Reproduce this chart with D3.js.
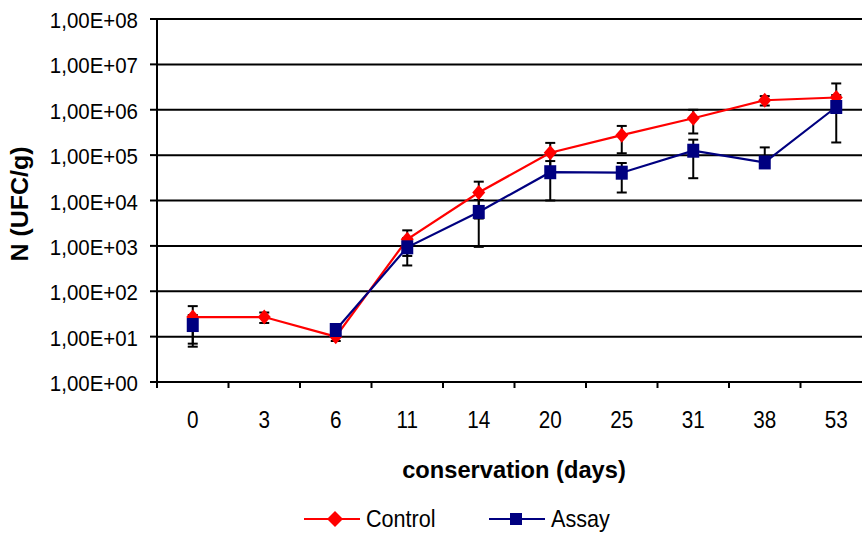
<!DOCTYPE html>
<html>
<head>
<meta charset="utf-8">
<script src="https://cdn.jsdelivr.net/npm/d3@7"></script>
<style>
  html, body { margin: 0; padding: 0; background: #fff; }
  svg { display: block; font-family: Arial, "Liberation Sans", sans-serif; }
</style>
</head>
<body>
<svg id="chart" width="862" height="536"></svg>
<script>
// conservation days (categories)
const days = ['0', '3', '6', '11', '14', '20', '25', '31', '38', '53'];

// N (UFC/g); null = no point
const control = [27, 27, 10, 1400, 15000, 113000, 275000, 650000, 1620000, 1860000];
const assay = [18, null, 14, 930, 5600, 42000, 41000, 125000, 69000, 1150000];

// error bar half-widths (linear, same units)
const controlErr = [20, 7, 2, 800, 11000, 73000, 165000, 350000, 380000, 1940000];
const assayErr = [12, null, 3, 560, 4650, 32000, 26000, 94000, 79000, 960000];

const yTicks = [1, 1e1, 1e2, 1e3, 1e4, 1e5, 1e6, 1e7, 1e8];

const SX = 0.9; // the source picture is squeezed horizontally
const svg = d3.select('#chart');

const x = d3.scaleBand().domain(days).range([157, 872]).padding(0);
const y = d3.scaleLog().domain([1, 1e8]).range([382, 19]);
const cx = (d) => x(d) + x.bandwidth() / 2;

function txt(g, px, py, str, opts = {}) {
  const sx = opts.sx || SX;
  return g.append('text')
    .attr('transform', `translate(${px},${py}) scale(${sx},1)` + (opts.rotate ? ` rotate(${opts.rotate})` : ''))
    .attr('text-anchor', opts.anchor || 'start')
    .attr('font-size', opts.size || 23)
    .attr('font-weight', opts.weight || 'normal')
    .attr('fill', '#000')
    .text(str);
}

const fmt = (v) => '1,00E+' + String(Math.round(Math.log10(v))).padStart(2, '0');

// gridlines
svg.append('g').selectAll('line').data(yTicks.slice(1)).join('line')
  .attr('x1', 157).attr('x2', 862)
  .attr('y1', (d) => y(d)).attr('y2', (d) => y(d))
  .attr('stroke', '#000').attr('stroke-width', 2);

// y axis
const yAxis = svg.append('g');
yAxis.append('line').attr('x1', 157).attr('x2', 157).attr('y1', y(1e8)).attr('y2', y(1))
  .attr('stroke', '#000').attr('stroke-width', 2);
yAxis.selectAll('line.tick').data(yTicks).join('line').attr('class', 'tick')
  .attr('x1', 150).attr('x2', 157)
  .attr('y1', (d) => y(d)).attr('y2', (d) => y(d))
  .attr('stroke', '#000').attr('stroke-width', 2);
yTicks.forEach((v) => txt(yAxis, 138, y(v) + 9, fmt(v), { anchor: 'end', size: 22, sx: 0.93 }));

// x axis
const xAxis = svg.append('g');
xAxis.append('line').attr('x1', 150).attr('x2', 862).attr('y1', y(1)).attr('y2', y(1))
  .attr('stroke', '#000').attr('stroke-width', 2);
xAxis.selectAll('line.tick').data(days).join('line').attr('class', 'tick')
  .attr('x1', (d) => x(d)).attr('x2', (d) => x(d))
  .attr('y1', y(1)).attr('y2', y(1) + 6)
  .attr('stroke', '#000').attr('stroke-width', 2);
days.forEach((d) => txt(xAxis, cx(d), 428, d, { anchor: 'middle' }));

// axis titles
txt(svg, 514, 478, 'conservation (days)', { anchor: 'middle', weight: 'bold', size: 23, sx: 1.03 });
txt(svg, 28, 204, 'N (UFC/g)', { anchor: 'middle', weight: 'bold', size: 25, sx: 0.93, rotate: -90 });

// error bars
function errorBars(vals, errs) {
  const g = svg.append('g');
  days.forEach((d, i) => {
    if (vals[i] == null || errs[i] == null) return;
    const hi = vals[i] + errs[i];
    const lo = vals[i] - errs[i];
    const yTop = y(hi);
    const yBot = lo > 0 ? y(lo) : y(vals[i]);
    g.append('line').attr('x1', cx(d)).attr('x2', cx(d)).attr('y1', yTop).attr('y2', yBot)
      .attr('stroke', '#000').attr('stroke-width', 2);
    g.append('line').attr('x1', cx(d) - 5).attr('x2', cx(d) + 5).attr('y1', yTop).attr('y2', yTop)
      .attr('stroke', '#000').attr('stroke-width', 2);
    if (lo > 0) {
      g.append('line').attr('x1', cx(d) - 5).attr('x2', cx(d) + 5).attr('y1', yBot).attr('y2', yBot)
        .attr('stroke', '#000').attr('stroke-width', 2);
    }
  });
}

const diamond = 'M0,-7.5L6.5,0L0,7.5L-6.5,0Z';
const square = 'M-6,-7H6V7H-6Z';
const bigDiamond = 'M0,-8L8,0L0,8L-8,0Z';

function series(vals, color, shape) {
  const g = svg.append('g');
  const pts = days.map((d, i) => ({ d, v: vals[i] }));
  const line = d3.line().defined((p) => p.v != null).x((p) => cx(p.d)).y((p) => y(p.v));
  g.append('path').attr('d', line(pts)).attr('fill', 'none')
    .attr('stroke', color).attr('stroke-width', 2.2);
  g.selectAll('path.pt').data(pts.filter((p) => p.v != null)).join('path').attr('class', 'pt')
    .attr('d', shape)
    .attr('transform', (p) => `translate(${cx(p.d)},${y(p.v)})`)
    .attr('fill', color);
}

errorBars(control, controlErr);
errorBars(assay, assayErr);
series(control, '#ff0000', diamond);
series(assay, '#000080', square);

// legend
const legend = svg.append('g');
const items = [
  { name: 'Control', color: '#ff0000', shape: bigDiamond, x: 304, mx: 335, tx: 366 },
  { name: 'Assay', color: '#000080', shape: 'M-6,-6H6V6H-6Z', x: 489, mx: 516, tx: 551 }
];
items.forEach((it) => {
  legend.append('line').attr('x1', it.x).attr('x2', it.x + 56).attr('y1', 519).attr('y2', 519)
    .attr('stroke', it.color).attr('stroke-width', 2.2);
  legend.append('path').attr('d', it.shape).attr('transform', `translate(${it.mx},519)`)
    .attr('fill', it.color);
  txt(legend, it.tx, 527, it.name, { size: 24 });
});
</script>
</body>
</html>
